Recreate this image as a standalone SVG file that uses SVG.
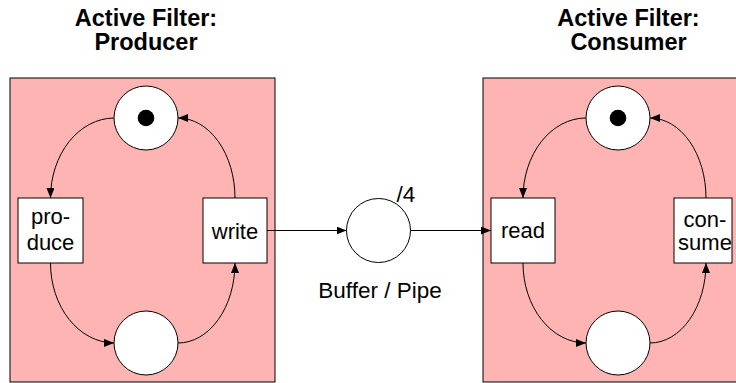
<svg xmlns="http://www.w3.org/2000/svg" width="736" height="383" viewBox="0 0 736 383">
  <defs>
    <marker id="arrow" viewBox="0 0 10 8" refX="10" refY="4" markerWidth="10" markerHeight="8" markerUnits="userSpaceOnUse" orient="auto">
      <path d="M0,0 L10,4 L0,8 Z" fill="#000"/>
    </marker>
    <style>
      .filter { fill: #ffb4b4; stroke: #000; stroke-width: 1; }
      .place { fill: #fff; stroke: #000; stroke-width: 1; }
      .trans { fill: #fff; stroke: #000; stroke-width: 1; }
      .token { fill: #000; }
      .arc { fill: none; stroke: #000; stroke-width: 1; marker-end: url(#arrow); }
      .title { font-family: "Liberation Sans", Arial, sans-serif; font-weight: bold; font-size: 23.5px; text-anchor: middle; fill: #000; }
      .label { font-family: "Liberation Sans", Arial, sans-serif; font-size: 22px; text-anchor: middle; fill: #000; }
      .note { font-family: "Liberation Sans", Arial, sans-serif; font-size: 22.5px; fill: #000; }
    </style>
  </defs>

  <!-- Producer filter -->
  <g id="producer">
    <rect class="filter" x="10" y="78" width="265" height="304"/>
    <text class="title" x="146" y="26">Active Filter:</text>
    <text class="title" x="146" y="50">Producer</text>
  </g>
  <g id="producer-ready">
    <circle class="place" cx="146" cy="118" r="32"/>
    <circle class="token" cx="146" cy="118" r="8.3"/>
  </g>
  <g id="producer-full">
    <circle class="place" cx="146" cy="343" r="32"/>
  </g>
  <g id="produce">
    <rect class="trans" x="18" y="198" width="65" height="65"/>
    <text class="label" x="50.5" y="224">pro-</text>
    <text class="label" x="50.5" y="250">duce</text>
  </g>
  <g id="write">
    <rect class="trans" x="203" y="198" width="64" height="65"/>
    <text class="label" x="235" y="239">write</text>
  </g>

  <!-- Consumer filter -->
  <g id="consumer">
    <rect class="filter" x="483" y="78" width="265" height="304"/>
    <text class="title" x="628.5" y="26">Active Filter:</text>
    <text class="title" x="628.5" y="50">Consumer</text>
  </g>
  <g id="consumer-ready">
    <circle class="place" cx="618" cy="118" r="32"/>
    <circle class="token" cx="618" cy="118" r="8.3"/>
  </g>
  <g id="consumer-full">
    <circle class="place" cx="618" cy="343" r="32"/>
  </g>
  <g id="read">
    <rect class="trans" x="491" y="198" width="64" height="65"/>
    <text class="label" x="523" y="238">read</text>
  </g>
  <g id="consume">
    <rect class="trans" x="674" y="198" width="58" height="65"/>
    <text class="label" x="705" y="227">con-</text>
    <text class="label" x="705" y="250">sume</text>
  </g>

  <!-- Buffer place with capacity 4 -->
  <g id="buffer">
    <circle class="place" cx="378.5" cy="230.5" r="32"/>
    <text class="note" x="396.5" y="201.5">/4</text>
    <text class="note" x="380" y="298" text-anchor="middle">Buffer / Pipe</text>
  </g>

  <g id="connectors">
    <path class="arc" d="M114,118 A64,80 0 0 0 50.5,198"/>
    <path class="arc" d="M50.5,263 A64,80 0 0 0 114,343"/>
    <path class="arc" d="M178,343 A57,80 0 0 0 235,263"/>
    <path class="arc" d="M235,198 A57,80 0 0 0 178,118"/>
    <path class="arc" d="M586,118 A63,80 0 0 0 523,198"/>
    <path class="arc" d="M523,263 A63,80 0 0 0 586,343"/>
    <path class="arc" d="M650,343 A56,80 0 0 0 706,263"/>
    <path class="arc" d="M706,198 A56,80 0 0 0 650,118"/>
    <path class="arc" d="M267,230.5 L346.5,230.5"/>
    <path class="arc" d="M410.5,230.5 L491,230.5"/>
  </g>
</svg>
